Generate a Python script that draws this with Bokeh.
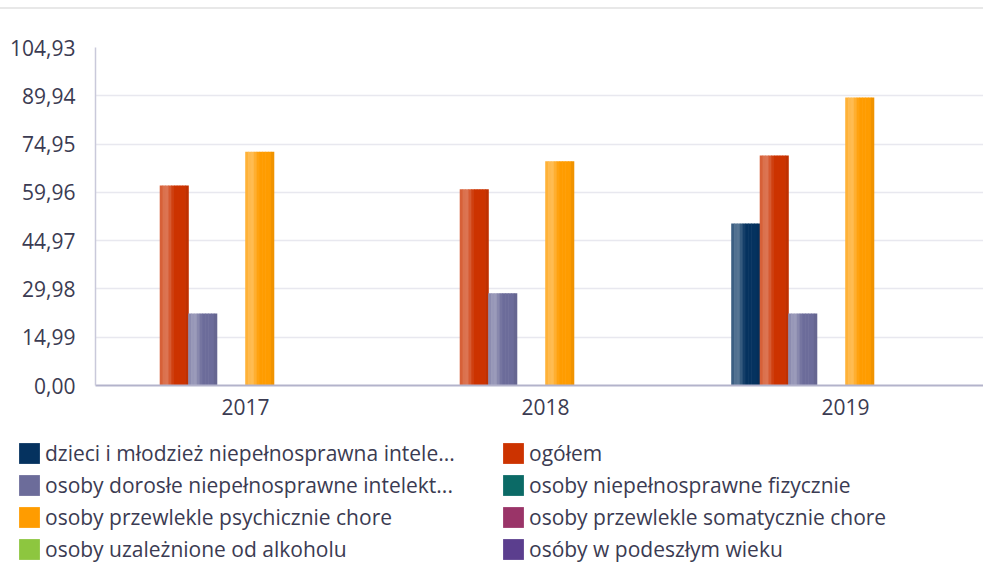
from bokeh.plotting import figure
from bokeh.layouts import column
from bokeh.models import (ColumnDataSource, Range1d, FixedTicker, CustomJSTickFormatter,
                          Legend, LegendItem, Div)
from bokeh.embed import file_html
from bokeh.resources import INLINE

years = ["2017", "2018", "2019"]
y_ticks = [0.00, 14.99, 29.98, 44.97, 59.96, 74.95, 89.94, 104.93]

series_names = [
    "dzieci i młodzież niepełnosprawna intele...",
    "ogółem",
    "osoby dorosłe niepełnosprawne intelekt...",
    "osoby niepełnosprawne fizycznie",
    "osoby przewlekle psychicznie chore",
    "osoby przewlekle somatycznie chore",
    "osoby uzależnione od alkoholu",
    "osóby w podeszłym wieku",
]
nan = float("nan")
dzieci = [nan, nan, 50.3]
ogolem = [62.1, 60.9, 71.4]
dorosle = [22.35, 28.65, 22.35]
fizycznie = [nan, nan, nan]
psychiczne = [72.6, 69.6, 89.4]
somatyczne = [nan, nan, nan]
alkohol = [nan, nan, nan]
podeszly = [nan, nan, nan]
series_values = [dzieci, ogolem, dorosle, fizycznie, psychiczne, somatyczne, alkohol, podeszly]

base_colors = ["#05325f", "#cc3300", "#6c6c9a", "#0b6a66", "#ff9c00", "#9a3468", "#8dc63f", "#5b3e8e"]

FONT = "Open Sans"
TEXT = "#3b3b52"
W = 983


def hex2rgb(h):
    h = h.lstrip("#")
    return [int(h[i:i + 2], 16) for i in (0, 2, 4)]


def rgb2hex(c):
    return "#%02x%02x%02x" % tuple(max(0, min(255, int(round(v)))) for v in c)


def mix(a, b, t):
    ca, cb = hex2rgb(a), hex2rgb(b)
    return rgb2hex([ca[i] + (cb[i] - ca[i]) * t for i in range(3)])


def grad_color(base, f):
    stops = [(0.0, mix(base, "#ffffff", 0.18)), (0.22, mix(base, "#ffffff", 0.36)),
             (0.5, base), (0.88, base), (1.0, mix(base, "#000000", 0.10))]
    for (f0, c0), (f1, c1) in zip(stops[:-1], stops[1:]):
        if f0 <= f <= f1:
            return mix(c0, c1, (f - f0) / (f1 - f0))
    return base


# header rule
HDR_H = 9
header = Div(text="", width=W, height=HDR_H, margin=0,
             styles={"border-bottom": "2px solid #e8e8e8", "box-sizing": "border-box"})

P_H = 421
p = figure(width=W, height=P_H, output_backend="svg", toolbar_location=None,
           x_range=Range1d(-0.5, 2.46), y_range=Range1d(0, 104.93),
           min_border_left=95, min_border_right=0, min_border_top=47 - HDR_H,
           min_border_bottom=P_H - (385 - HDR_H))
p.frame_align = False
p.outline_line_color = None
p.background_fill_color = "white"
p.border_fill_color = "white"

bar_w = 0.095
n_strips = 10
xs = list(range(len(years)))
for i, (vals, col) in enumerate(zip(series_values, base_colors)):
    center_off = (i - 3.5) * bar_w
    for k in range(n_strips):
        f = (k + 0.5) / n_strips
        off = center_off - bar_w / 2 + (k + 0.5) * bar_w / n_strips
        src = ColumnDataSource(dict(x=[x + off for x in xs], top=vals))
        p.vbar(x="x", top="top", bottom=0, width=bar_w / n_strips * 1.2, source=src,
               fill_color=grad_color(col, f), line_color=None)

yax = p.yaxis[0]
yax.ticker = FixedTicker(ticks=y_ticks)
yax.formatter = CustomJSTickFormatter(code="return tick.toFixed(2).replace('.', ',');")
yax.axis_line_color = "#c9c9da"
yax.axis_line_width = 1.5
yax.major_tick_line_color = None
yax.minor_tick_line_color = None
yax.major_label_standoff = 14
yax.major_label_text_font = FONT
yax.major_label_text_font_size = "21px"
yax.major_label_text_color = TEXT

xax = p.xaxis[0]
xax.ticker = FixedTicker(ticks=xs)
xax.major_label_overrides = {x: y for x, y in zip(xs, years)}
xax.axis_line_color = "#b3b3cb"
xax.axis_line_width = 2
xax.major_tick_line_color = None
xax.minor_tick_line_color = None
xax.major_label_standoff = 7
xax.major_label_text_font = FONT
xax.major_label_text_font_size = "21px"
xax.major_label_text_color = TEXT

p.xgrid.grid_line_color = None
p.ygrid.ticker = FixedTicker(ticks=y_ticks)
p.ygrid.grid_line_color = "#e8e8ef"
p.ygrid.grid_line_width = 1.5

# legend panel
L_H = 563 - HDR_H - P_H
lf = figure(width=W, height=L_H, output_backend="svg", toolbar_location=None,
            x_axis_type=None, y_axis_type=None, x_range=Range1d(0, 1), y_range=Range1d(0, 1),
            min_border=0, min_border_left=0, min_border_right=0,
            min_border_top=0, min_border_bottom=0)
lf.frame_align = False
lf.outline_line_color = None
lf.xgrid.grid_line_color = None
lf.ygrid.grid_line_color = None
proxies = []
for name, col in zip(series_names, base_colors):
    src = ColumnDataSource(dict(x=[nan], top=[nan]))
    proxies.append(lf.vbar(x="x", top="top", bottom=0, width=0.1, source=src,
                           fill_color=grad_color(col, 0.55), line_color=None))

for col_idx, x_loc in enumerate([16, 500]):
    items = [LegendItem(label=series_names[j], renderers=[proxies[j]])
             for j in range(col_idx, len(series_names), 2)]
    leg = Legend(items=items, location=(x_loc, 0), orientation="vertical",
                 glyph_width=26, glyph_height=26, label_height=26, spacing=4,
                 label_standoff=3, padding=0, margin=0,
                 background_fill_alpha=0, border_line_color=None,
                 label_text_font=FONT, label_text_font_size="21px",
                 label_text_color=TEXT)
    lf.add_layout(leg, "center")

layout = column(header, p, lf, spacing=0)
open("out.html", "w").write(file_html(layout, INLINE))
